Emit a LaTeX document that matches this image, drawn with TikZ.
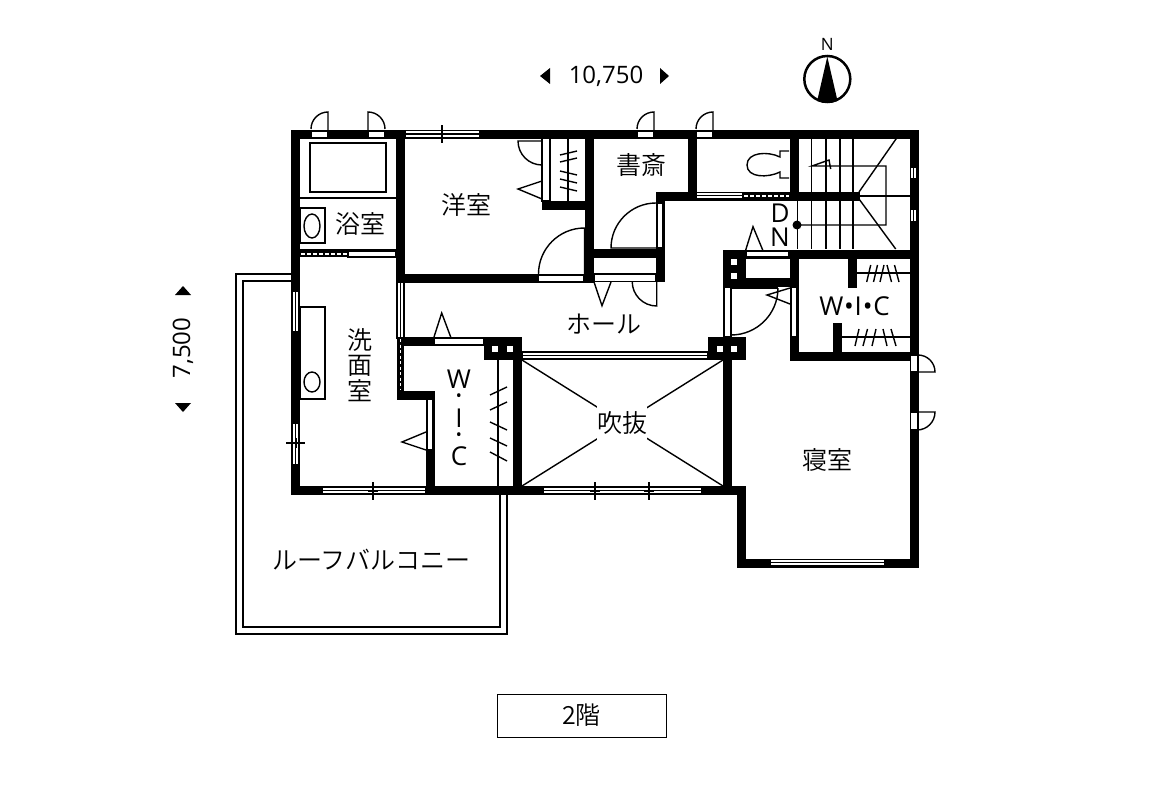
\documentclass[tikz,border=0pt]{standalone}
\usepackage{fontspec}
\setmainfont{Open Sans}
\newfontfamily\jpfont{Noto Sans CJK JP DemiLight}
\usetikzlibrary{positioning}
\tikzset{
  wall/.style={line width=9pt,line cap=rect,line join=miter},
  thinline/.style={line width=1.4pt},
  winbox/.style={draw,fill=white,line width=1.4pt},
  room/.style={font=\fontsize{25}{25}\selectfont\jpfont,inner sep=0pt},
  latin/.style={font=\fontsize{26}{26}\selectfont,inner sep=0pt},
  hole/.style={fill=white,draw=none},
}
\begin{document}
\begin{tikzpicture}[x=1pt,y=-1pt]
\useasboundingbox (0,0) rectangle (1160,800);
% balcony
\draw[thinline] (291,274) -- (236,274) -- (236,634) -- (507,634) -- (507,490);
\draw[thinline] (291,281) -- (243,281) -- (243,627) -- (500,627) -- (500,490);
% walls
\draw[wall] (295.5,134) -- (914,134) -- (914,563) -- (741.5,563) -- (741.5,490) -- (295.5,490) -- cycle;
\draw[wall] (400.5,134) -- (400.5,278) -- (589.5,278) -- (589.5,134);
\draw[wall] (546.5,205) -- (589.5,205);
\draw[wall] (692,134) -- (692,196);
\draw[wall] (794,134) -- (794,196);
\draw[wall] (660,277.5) -- (660,196) -- (855,196);
\draw[wall] (589.5,253.5) -- (660,253.5);
\draw[wall] (727,254) -- (914,254);
\draw[wall] (727,282.5) -- (794,282.5);
\draw[wall] (794,254) -- (794,356) -- (914,356);
\draw[wall] (852,254) -- (852,283);
\draw[wall] (837,356) -- (837,327);
\draw[wall] (727,345) -- (727,490);
\draw[wall] (406,341) -- (484,341);
\draw[wall] (401,395) -- (430,395) -- (430,490);
\draw[wall] (517.5,350) -- (517.5,490);
\fill (484,337) rectangle (522,360);
\fill (708,337) rectangle (746,360);
\fill (722.7,250) rectangle (745.7,287);
\foreach \xa/\ya in {492/346,507/346,717/346,731/346,731/259,731/273}
  \fill[white] (\xa,\ya) rectangle ++(6,5.5);
% wall openings
\foreach \xa/\ya/\xb/\yb in {311/131/328/137.5,368/131/385/137.5,637/131/654/137.5,696/131/713/137.5,
  538/275/584/281.5,594/274/656/281.5,746/251/789/257,434/338/484/344.5,
  910.5/355/917.5/372,910.5/412/917.5/430}
  \draw[winbox] (\xa,\ya) rectangle (\xb,\yb);
\foreach \xa/\ya/\xb/\yb in {724/287/731/337,791/287/797/337,657/203/663/248,427/399/433/450,
  542/138/550/201}
  \draw[winbox] (\xa,\ya) rectangle (\xb,\yb);
% windows, horizontal
\foreach \xa/\xb/\ya/\yb in {405/480/130.5/137.5,322/426/487/493.5,543/702/487/493.5,770/885/559.5/566,
  522/708/352/359,696/743/192.5/199}{
  \draw[winbox] (\xa,\ya) rectangle (\xb,\yb);
  \draw[thinline] (\xa,{(\ya+\yb)/2}) -- (\xb,{(\ya+\yb)/2});
}
% windows, vertical
\foreach \ya/\yb/\xa/\xb in {291/332/292/299,423/465/292/299,282/338/397/404,167/179/910.5/917,209/222/910.5/917}{
  \draw[winbox] (\xa,\ya) rectangle (\xb,\yb);
  \draw[thinline] ({(\xa+\xb)/2},\ya) -- ({(\xa+\xb)/2},\yb);
}
% sliding doors shown with dots
\fill (743,193) rectangle (790,199);
\draw[white,line width=1.6pt,dash pattern=on 3.5pt off 2.5pt] (744,196) -- (789,196);
\fill (300,251) rectangle (348,257);
\draw[winbox] (348,251) rectangle (396,257);
\draw[white,line width=1.6pt,dash pattern=on 3.5pt off 2.5pt] (301,254) -- (347,254);
\fill (397,338) rectangle (404,391);
\draw[white,line width=1.6pt,dash pattern=on 3pt off 2.5pt] (400.5,339) -- (400.5,390);
% ticks on windows
\foreach \x in {442,373,595,649}{
  \draw[thinline] (\x,{\x==442 ? 125 : 482}) -- (\x,{\x==442 ? 143 : 500});
  \draw[line width=2pt] (\x-5,{\x==442 ? 134 : 490.5}) -- (\x+5,{\x==442 ? 134 : 490.5});
}
\draw[thinline] (286,443) -- (305,443);
\draw[line width=2pt] (295.5,438) -- (295.5,448);
% doors
\draw[thinline] (328,134) -- (328,112) arc (-90:-180:17);
\draw[thinline] (368,134) -- (368,112) arc (-90:0:17);
\draw[thinline] (654,134) -- (654,112) arc (-90:-180:17);
\draw[thinline] (713,134) -- (713,112) arc (-90:-180:17);
\draw[thinline] (584.5,274) -- (584.5,228) arc (-90:-180:46);
\draw[thinline] (656,203) arc (-90:-180:45) -- (656,248);
\draw[thinline] (542,141) -- (518,141) arc (180:90:24);
\draw[thinline] (656.7,282) -- (656.7,306) arc (90:180:24.5);
\draw[thinline] (778,288) -- (731,288);
\draw[thinline] (778,288) arc (0:90:47);
\draw[thinline] (918,355) arc (-90:0:17) -- (918,372);
\draw[thinline] (918,412) -- (935,412) arc (0:90:18);
% triangles of the doors
\draw[thinline] (542,181) -- (518,189) -- (542,199);
\draw[thinline] (426,432) -- (402,442) -- (426,450);
\draw[thinline] (434,337) -- (441.7,313) -- (450.7,337);
\draw[thinline] (594,282) -- (602,305.7) -- (611,282);
\draw[thinline] (745.7,250) -- (753,226.7) -- (762.7,250);
\draw[thinline] (790,288) -- (767,295) -- (790,304);
% bath, sinks, toilet
\draw[thinline] (310,143) rectangle (386,192);
\draw[thinline] (300,198) -- (396,198);
\draw[thinline] (300,208) rectangle (325,243);
\draw[thinline] (312,226) ellipse (8 and 12);
\draw[thinline] (300,250) -- (396,250);
\draw[thinline] (300,307) rectangle (325,399);
\draw[thinline] (312,382) ellipse (8 and 10);
\draw[thinline] (789,151) -- (780,151) -- (780,157) .. controls (768,151) and (747,152) .. (747,165) .. controls (747,178) and (768,178) .. (780,172) -- (780,178) -- (789,178);
% closets
\draw[thinline] (568,138) -- (568,202);
\foreach \xa/\ya/\xb/\yb in {560/155/577/151,560/162/577/158,560/171/577/175,560/179/577/183,560/187/577/191}
  \draw[thinline] (\xa,\ya) -- (\xb,\yb);
\draw[thinline] (498,360) -- (498,486);
\foreach \ya/\yb in {395/387,410/402,422/430,438/446,452/461}
  \draw[thinline] (490,\ya) -- (507,\yb);
\draw[thinline] (856,273) -- (910,273);
\draw[thinline] (841,337) -- (910,337);
\foreach \xa/\xb in {866.7/870.7,873.5/877.5,880/884,891.5/887,899/894.5}
  \draw[thinline] (\xa,282) -- (\xb,265);
\foreach \xa/\xb in {855/859,863/867.5,872/876,887/883,896/891}
  \draw[thinline] (\xa,346) -- (\xb,329);
% stairs
\foreach \x in {811.7,826,840,853}
  \draw[thinline] (\x,138) -- (\x,192);
\foreach \x in {797.5,811.7,826,840,853}
  \draw[thinline] (\x,200) -- (\x,249);
\draw[thinline] (859,192) -- (896.7,138);
\draw[thinline] (859,199) -- (895.7,249);
\draw[thinline] (859,196) -- (910,196);
\draw[thinline] (797,225) -- (886,225) -- (886,166) -- (812,166) -- (829,160) -- (830.7,169);
\fill (797,225) circle (4.5);
\node[latin] (stairD) at (780,213) {D};
\node[latin] (stairN) at (780,237) {N};
% void
\draw[thinline] (522,360) -- (723,486);
\draw[thinline] (723,360) -- (522,486);
\node[room,hole,minimum width=50pt,minimum height=34pt] (void) at (622,423) {吹抜};
% rooms
\node[room] (bath) at (360.5,224) {浴室};
\node[room] (western) at (466,205) {洋室};
\node[room] (study) at (641,165) {書斎};
\node[room] (hall) at (604,324) {ホール};
\node[room] (wash1) at (360,340) {洗};
\node[room] (wash2) at (360,366) {面};
\node[room] (wash3) at (360,391) {室};
\node[room] (bedroom) at (827,460) {寝室};
\node[room] (balcony) at (371,560) {ルーフバルコニー};
\node[latin] (wicright) at (854.5,306) {W\kern.8pt•\kern.8pt I\kern.8pt•\kern.8pt C};
\node[latin] (wicW) at (459,379) {W};
\node[latin,font=\fontsize{16}{16}\selectfont] (wicA) at (459,398) {•};
\node[latin] (wicI) at (459,418) {I};
\node[latin,font=\fontsize{16}{16}\selectfont] (wicB) at (459,437) {•};
\node[latin] (wicC) at (459,456) {C};
% dimensions
\node[latin,font=\fontsize{24}{24}\selectfont] (width) at (606,76) {10,750};
\fill (540,76) -- (550,68) -- (550,84) -- cycle;
\fill (669,76) -- (660,68) -- (660,84) -- cycle;
\node[latin,font=\fontsize{24}{24}\selectfont,rotate=90] (depth) at (183,348) {7,500};
\fill (183,286) -- (175,295) -- (191,295) -- cycle;
\fill (183,412) -- (175,403) -- (191,403) -- cycle;
% north mark
\node[font=\fontsize{17}{17}\selectfont,inner sep=0pt] (north) at (827.3,44) {N};
\begin{scope}
\clip (827.3,79) circle (24);
\fill (827.3,56.7) -- (816.7,103) -- (838,103) -- cycle;
\end{scope}
\draw[line width=2.5pt] (827.3,79) circle (23);
% floor label
\node[draw,line width=1pt,minimum width=169pt,minimum height=43pt,room] (floor) at (581.5,715.5) {2階};
\end{tikzpicture}
\end{document}
